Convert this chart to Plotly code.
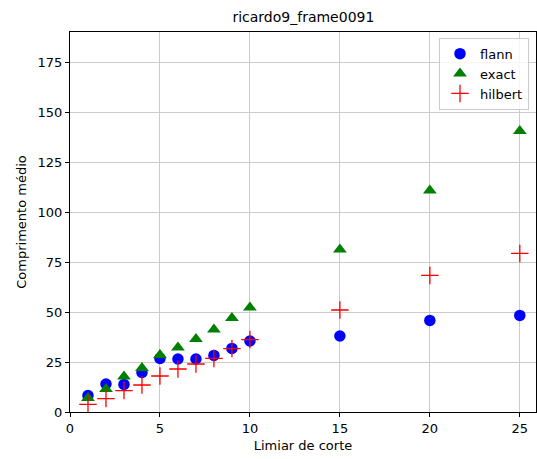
import plotly.graph_objects as go

x_vals = [1, 2, 3, 4, 5, 6, 7, 8, 9, 10, 15, 20, 25]
flann = [8.2, 14.0, 13.8, 19.8, 26.8, 26.5, 26.5, 28.3, 31.8, 35.5, 38.0, 45.8, 48.3]
exact = [7.0, 11.5, 17.7, 22.0, 28.5, 32.3, 36.5, 41.3, 47.0, 52.2, 81.3, 110.7, 140.5]
hilbert = [3.8, 6.7, 10.7, 13.5, 18.0, 21.5, 24.0, 26.8, 31.7, 36.2, 51.0, 68.3, 79.3]
x_ticks = [0, 5, 10, 15, 20, 25]
y_ticks = [0, 25, 50, 75, 100, 125, 150, 175]

FONT = "DejaVu Sans"

fig = go.Figure()
fig.add_trace(go.Scatter(x=x_vals, y=flann, mode="markers", name="flann",
                         marker=dict(symbol="circle", size=11.5, color="blue")))
fig.add_trace(go.Scatter(x=x_vals, y=exact, mode="markers", name="exact",
                         marker=dict(symbol="triangle-up", size=12, color="green")))
fig.add_trace(go.Scatter(x=x_vals, y=hilbert, mode="markers", name="hilbert",
                         marker=dict(symbol="cross-thin", size=12.5, color="red",
                                     line=dict(color="red", width=1.3))))

axis_common = dict(
    showgrid=True, gridcolor="#cccccc", gridwidth=1,
    showline=True, linecolor="black", linewidth=1, mirror=True,
    ticks="outside", ticklen=4, tickwidth=1, tickcolor="black",
    zeroline=False,
    tickfont=dict(family=FONT, size=13, color="black"),
)

fig.update_layout(
    width=537, height=459,
    margin=dict(l=70, r=1, t=32, b=47),
    paper_bgcolor="white", plot_bgcolor="white",
    title=dict(text="ricardo9_frame0091", x=0.565, xanchor="center", y=0.962, yanchor="middle",
               font=dict(family=FONT, size=14, color="black")),
    xaxis=dict(range=[0, 25.9], tickvals=x_ticks,
               title=dict(text="Limiar de corte", font=dict(family=FONT, size=13, color="black"), standoff=6),
               **axis_common),
    yaxis=dict(range=[0, 190], tickvals=y_ticks,
               title=dict(text="Comprimento médio", font=dict(family=FONT, size=13, color="black"), standoff=8),
               **axis_common),
    legend=dict(x=0.985, y=0.985, xanchor="right", yanchor="top",
                bgcolor="rgba(255,255,255,0.8)", bordercolor="#cccccc", borderwidth=1,
                font=dict(family=FONT, size=13, color="black"), tracegroupgap=0),
    showlegend=True,
)

fig.write_html("out.html")
